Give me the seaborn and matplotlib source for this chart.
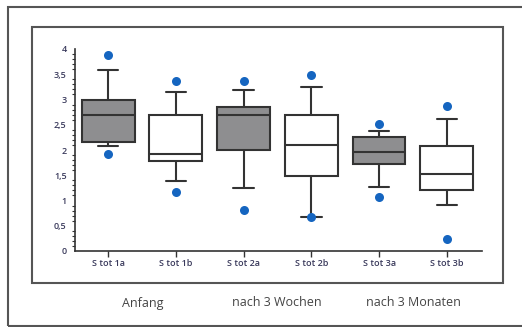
import numpy as np
import pandas as pd
import seaborn as sns
import matplotlib.pyplot as plt
from matplotlib.patches import Rectangle
from matplotlib.ticker import MultipleLocator, FuncFormatter

# Werte
labels = ['S tot 1a', 'S tot 1b', 'S tot 2a', 'S tot 2b', 'S tot 3a', 'S tot 3b']
whisk_lo = [2.07, 1.39, 1.24, 0.67, 1.27, 0.92]
q1 = [2.15, 1.78, 2.00, 1.49, 1.72, 1.21]
median = [2.70, 1.93, 2.70, 2.10, 1.97, 1.53]
q3 = [3.00, 2.70, 2.86, 2.70, 2.26, 2.07]
whisk_hi = [3.59, 3.15, 3.18, 3.24, 2.38, 2.61]
dot_lo = [1.93, 1.16, 0.81, 0.67, 1.06, 0.24]
dot_hi = [3.88, 3.36, 3.37, 3.48, 2.52, 2.88]
groups = ['Anfang', 'nach 3 Wochen', 'nach 3 Monaten']

# fünf Werte je Box -> Quartile mit linearer Interpolation stimmen genau
rows = []
for i, lab in enumerate(labels):
    for v in [whisk_lo[i], q1[i], median[i], q3[i], whisk_hi[i]]:
        rows.append({'label': lab, 'wert': v})
df = pd.DataFrame(rows)

dots = pd.DataFrame({'label': labels * 2, 'wert': dot_lo + dot_hi})

sns.set_style('white')
plt.rcParams['font.family'] = ['Open Sans', 'DejaVu Sans']

fig = plt.figure(figsize=(5.22, 3.27), dpi=100)
ax = fig.add_axes([75 / 522, 1 - 251 / 327, (482 - 75) / 522, (251 - 49) / 327])

palette = ['#8e8e90', 'white'] * 3
sns.boxplot(data=df, x='label', y='wert', hue='label', palette=palette, legend=False,
            whis=(0, 100), width=0.78, linecolor='#333333', linewidth=1.5,
            showfliers=False, capwidths=0.3, ax=ax)
sns.stripplot(data=dots, x='label', y='wert', jitter=False, color='#1565c0',
              size=6.5, zorder=5, ax=ax)

ax.set_ylim(0, 4)
ax.set_xlim(-0.49, 5.52)
ax.set_xlabel('')
ax.set_ylabel('')
ax.yaxis.set_major_locator(MultipleLocator(0.5))
ax.yaxis.set_minor_locator(MultipleLocator(0.1))
ax.yaxis.set_major_formatter(FuncFormatter(lambda v, p: f'{v:g}'.replace('.', ',')))
for s in ['top', 'right']:
    ax.spines[s].set_visible(False)
for s in ['left', 'bottom']:
    ax.spines[s].set_color('#333333')
    ax.spines[s].set_linewidth(1.2)
ax.tick_params(axis='both', which='major', length=4, width=1, color='#333333',
               labelsize=6.5, labelcolor='#3a3a5c', pad=2)
ax.tick_params(axis='y', which='minor', length=2, width=0.8, color='#333333', left=True)
ax.tick_params(axis='x', which='major', direction='out', bottom=True)
for t in ax.get_xticklabels() + ax.get_yticklabels():
    t.set_fontweight('semibold')

# Rahmen
fig.patches.append(Rectangle((8 / 522, 1 - 326 / 327), 1, (326 - 7) / 327,
                             transform=fig.transFigure, fill=False,
                             edgecolor='#555555', linewidth=1.5))
fig.patches.append(Rectangle((32 / 522, 1 - 283 / 327), (503 - 32) / 522, (283 - 27) / 327,
                             transform=fig.transFigure, fill=False,
                             edgecolor='#555555', linewidth=1.5))

for gx, g in zip([143, 277, 413], groups):
    fig.text(gx / 522, 1 - 303 / 327, g, ha='center', va='center', fontsize=9,
             color='#444444')

fig.savefig('out.png', dpi=100)
